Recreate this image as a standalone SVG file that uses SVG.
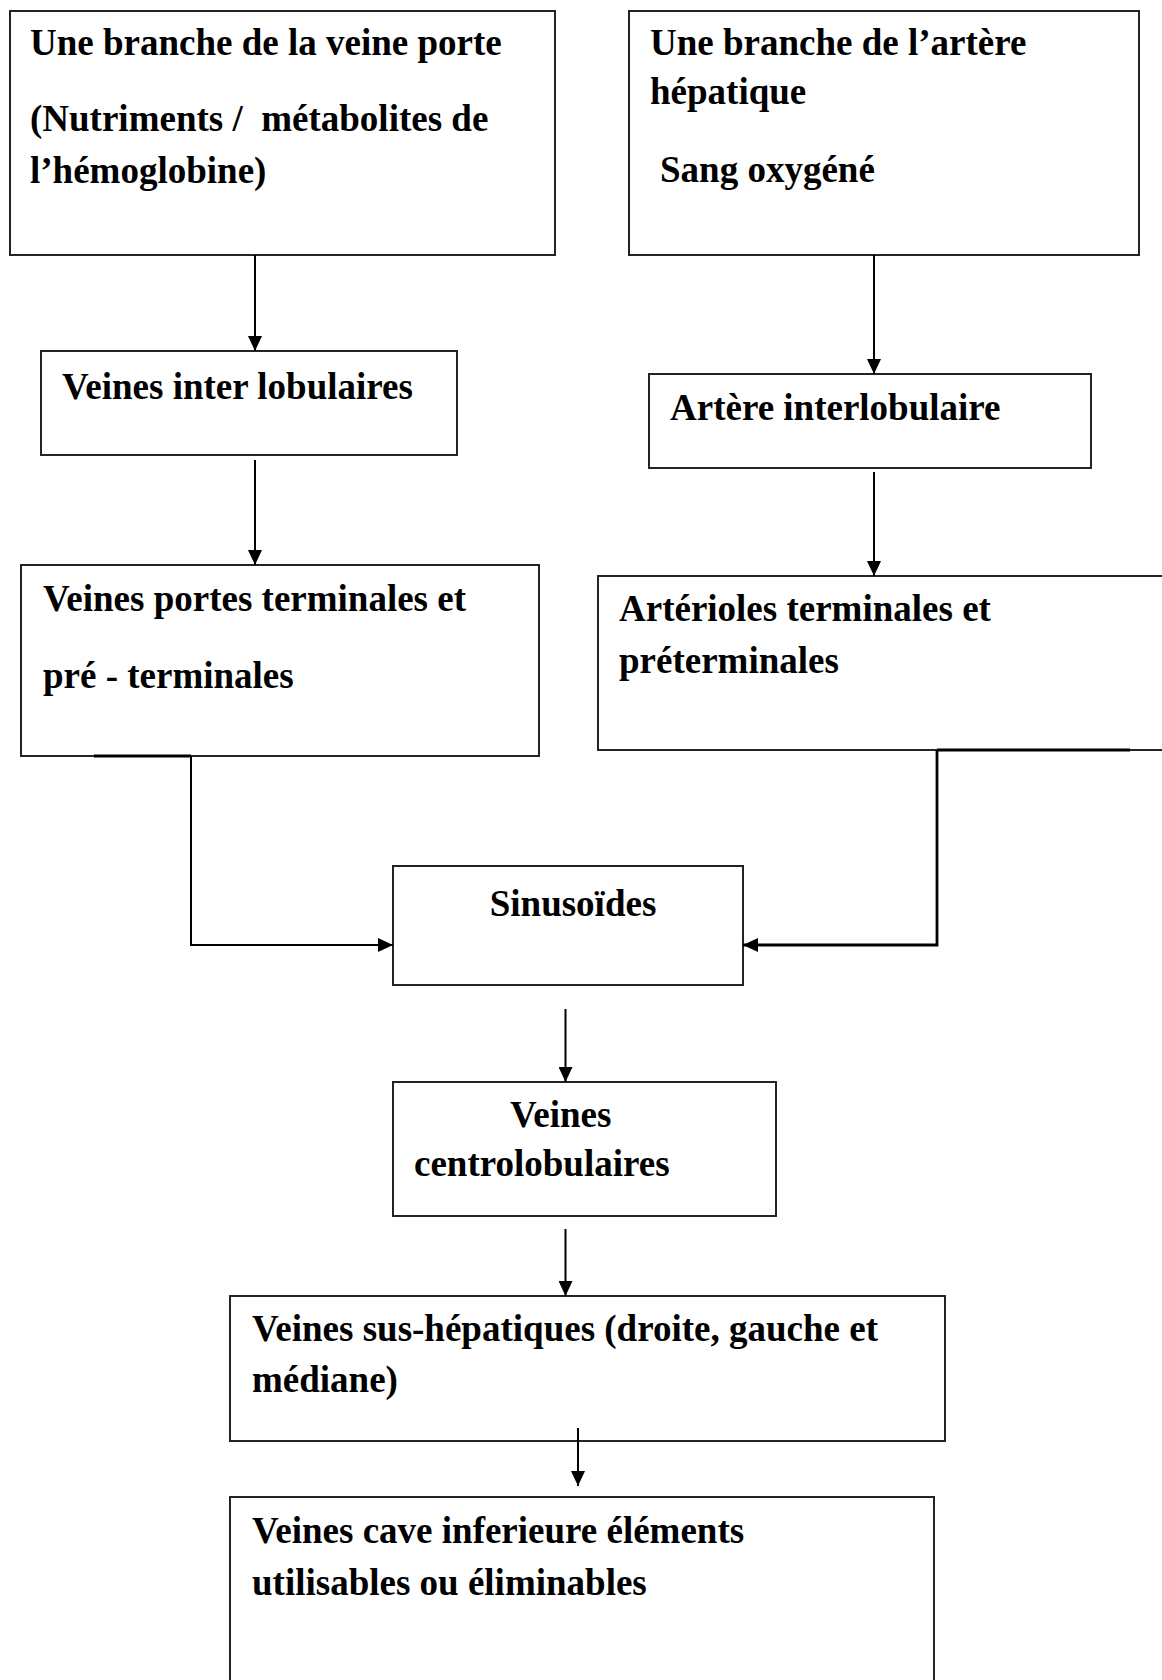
<svg xmlns="http://www.w3.org/2000/svg" width="1162" height="1680" viewBox="0 0 1162 1680">
  <style>
    .box { fill: #ffffff; stroke: #1a1a1a; stroke-width: 1.9; }
    .lbl { font-family: "Liberation Serif", "Times New Roman", serif; font-weight: bold; font-size: 37px; fill: #000000; white-space: pre; }
    .wire { fill: none; stroke: #000000; stroke-width: 2; }
    .wire-thick { fill: none; stroke: #000000; stroke-width: 2.8; }
  </style>
  <defs>
    <marker id="head" markerUnits="userSpaceOnUse" markerWidth="15" markerHeight="14" viewBox="0 0 15 14" refX="15" refY="7" orient="auto">
      <path d="M0,0 L15,7 L0,14 Z" fill="#000000"/>
    </marker>
  </defs>
  <rect width="1162" height="1680" fill="#ffffff"/>

  <!-- portal branch -->
  <g id="veine-porte">
    <rect class="box" x="10" y="11" width="545" height="244"/>
    <text class="lbl" x="30" y="55">Une branche de la veine porte</text>
    <text class="lbl" x="30" y="131" xml:space="preserve">(Nutriments /  métabolites de</text>
    <text class="lbl" x="30" y="183">l’hémoglobine)</text>
  </g>

  <!-- hepatic artery branch -->
  <g id="artere-hepatique">
    <rect class="box" x="629" y="11" width="510" height="244"/>
    <text class="lbl" x="650" y="55">Une branche de l’artère</text>
    <text class="lbl" x="650" y="104">hépatique</text>
    <text class="lbl" x="660" y="182">Sang oxygéné</text>
  </g>

  <g id="veines-interlobulaires">
    <rect class="box" x="41" y="351" width="416" height="104"/>
    <text class="lbl" x="62" y="399">Veines inter lobulaires</text>
  </g>

  <g id="artere-interlobulaire">
    <rect class="box" x="649" y="374" width="442" height="94"/>
    <text class="lbl" x="670" y="420">Artère interlobulaire</text>
  </g>

  <g id="veines-portes-terminales">
    <rect class="box" x="21" y="565" width="518" height="191"/>
    <text class="lbl" x="43" y="611">Veines portes terminales et</text>
    <text class="lbl" x="43" y="688">pré - terminales</text>
  </g>

  <g id="arterioles-terminales">
    <rect class="box" x="598" y="576" width="600" height="174"/>
    <text class="lbl" x="619" y="621">Artérioles terminales et</text>
    <text class="lbl" x="619" y="673">préterminales</text>
  </g>

  <g id="sinusoides">
    <rect class="box" x="393" y="866" width="350" height="119"/>
    <text class="lbl" x="573" y="916" text-anchor="middle">Sinusoïdes</text>
  </g>

  <g id="veines-centrolobulaires">
    <rect class="box" x="393" y="1082" width="383" height="134"/>
    <text class="lbl" x="510" y="1127">Veines</text>
    <text class="lbl" x="414" y="1176">centrolobulaires</text>
  </g>

  <g id="veines-sus-hepatiques">
    <rect class="box" x="230" y="1296" width="715" height="145"/>
    <text class="lbl" x="252" y="1341">Veines sus-hépatiques (droite, gauche et</text>
    <text class="lbl" x="252" y="1392">médiane)</text>
  </g>

  <g id="veine-cave">
    <rect class="box" x="230" y="1497" width="704" height="250"/>
    <text class="lbl" x="252" y="1543">Veines cave inferieure éléments</text>
    <text class="lbl" x="252" y="1595">utilisables ou éliminables</text>
  </g>

  <!-- connectors -->
  <g id="connectors">
    <line class="wire" x1="255" y1="255" x2="255" y2="351" marker-end="url(#head)"/>
    <line class="wire" x1="874" y1="255" x2="874" y2="374" marker-end="url(#head)"/>
    <line class="wire" x1="255" y1="460" x2="255" y2="565" marker-end="url(#head)"/>
    <line class="wire" x1="874" y1="472" x2="874" y2="576" marker-end="url(#head)"/>

    <!-- portal side into the sinusoids -->
    <line class="wire-thick" x1="94" y1="756" x2="191" y2="756"/>
    <polyline class="wire" points="191,756 191,945 393,945" marker-end="url(#head)"/>

    <!-- arterial side into the sinusoids -->
    <line class="wire-thick" x1="937" y1="750" x2="1130" y2="750"/>
    <polyline class="wire-thick" points="937,750 937,945 743,945" marker-end="url(#head)"/>

    <line class="wire" x1="565.5" y1="1009" x2="565.5" y2="1082" marker-end="url(#head)"/>
    <line class="wire" x1="565.5" y1="1229" x2="565.5" y2="1296" marker-end="url(#head)"/>
    <line class="wire" x1="578" y1="1428" x2="578" y2="1486" marker-end="url(#head)"/>
  </g>
</svg>
